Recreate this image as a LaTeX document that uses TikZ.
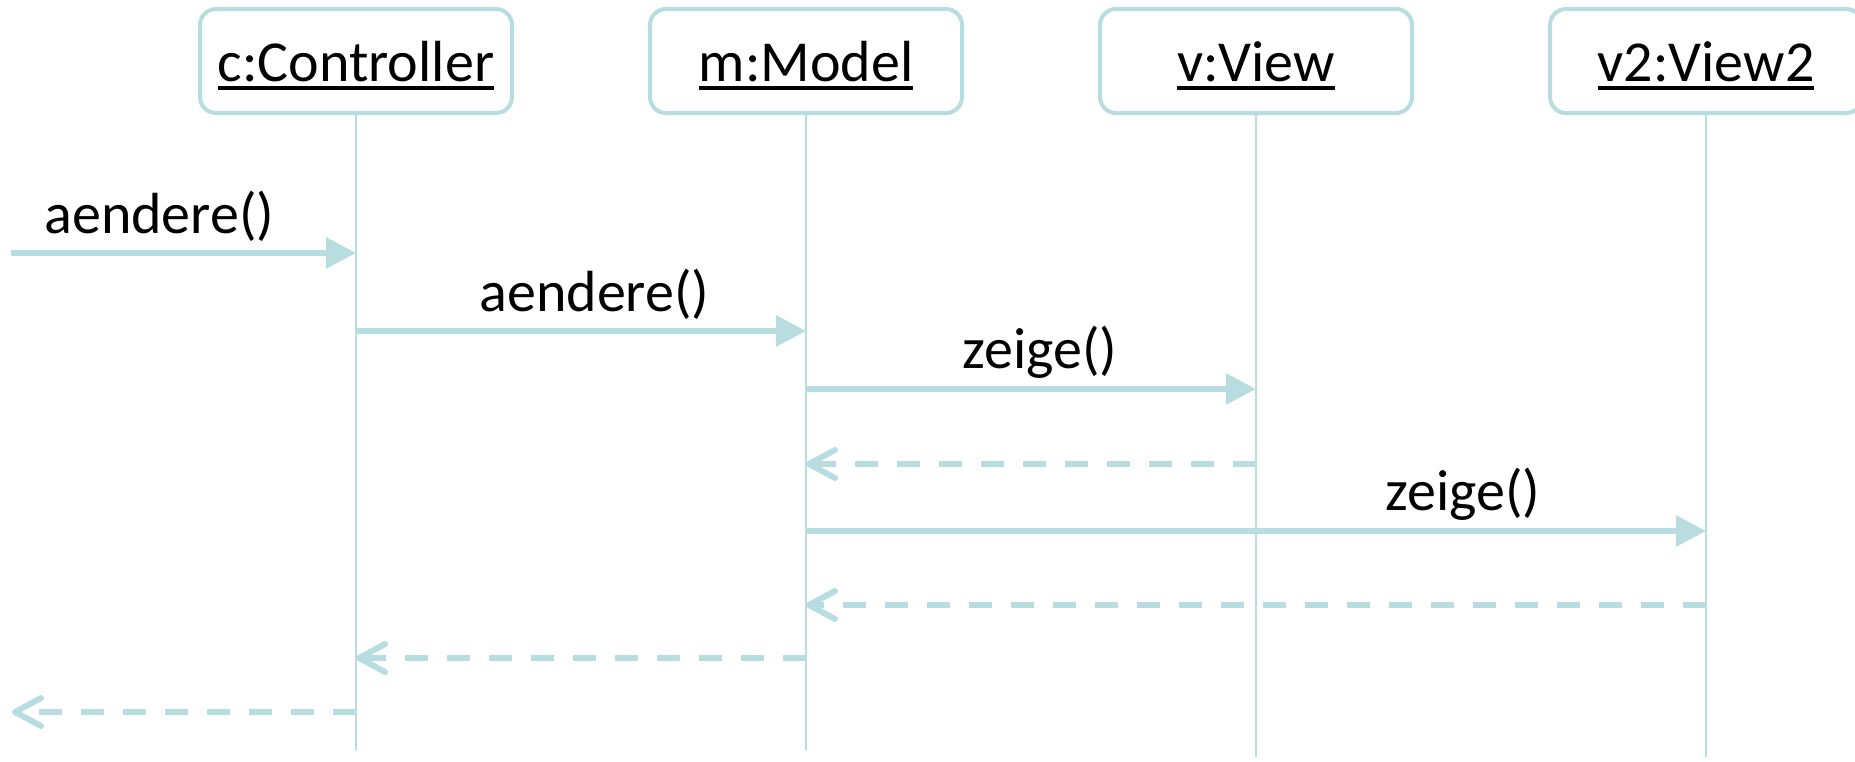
\documentclass[tikz,border=0pt]{standalone}
\usepackage{fontspec}
\setmainfont{Carlito}
\usepackage{tikz}
\usetikzlibrary{positioning, arrows.meta}
\definecolor{lifeblue}{RGB}{183,221,224}
\newcommand{\objname}[1]{\vtop{\hbox{#1}\kern5pt\hrule height 4pt}}

\begin{document}
\begin{tikzpicture}[
  x=1pt, y=-1pt,
  node distance=134pt,
  font=\fontsize{58}{64}\selectfont,
  objbox/.style={draw=lifeblue, line width=4pt, rounded corners=16pt, minimum width=312pt, minimum height=104pt, text height=50pt, text depth=10pt, inner sep=0pt},
  lifeline/.style={draw=lifeblue, line width=2pt},
  call/.style={draw=lifeblue, line width=6pt, -{Triangle[length=30pt, width=30pt]}},
  reply/.style={draw=lifeblue, line width=6pt, dash pattern=on 23pt off 19pt, -{Straight Barb[length=26pt, width=28pt, round]}},
  msglabel/.style={inner sep=0pt, above=8pt, text=black},
]
  \useasboundingbox (0,0) rectangle (1855,761);

  % Objects
  \node (ctrl) [objbox] at (356,61) {\objname{c:Controller}};
  \node (model) [objbox, right=of ctrl] {\objname{m:Model}};
  \node (view) [objbox, right=of model] {\objname{v:View}};
  \node (view2) [objbox, right=of view] {\objname{v2:View2}};

  % Lifelines
  \foreach \obj/\len in {ctrl/750, model/750, view/757, view2/757} {
    \draw [lifeline] (\obj.south) -- (\obj |- 0,\len);
  }

  % Outside caller
  \coordinate (caller) at (11,253);
  \coordinate (back) at (12,712);

  % Calls
  \draw [call] (caller) -- node (lbl1) [msglabel, pos=0.43] {aendere()} (ctrl |- caller);
  \draw [call] (ctrl |- 0,331) -- node (lbl2) [msglabel, pos=0.53] {aendere()} (model |- 0,331);
  \draw [call] (model |- 0,389) -- node (lbl3) [msglabel, pos=0.52] {zeige()} (view |- 0,389);
  \draw [call] (model |- 0,531) -- node (lbl4) [msglabel, pos=0.73] {zeige()} (view2 |- 0,531);

  % Replies
  \draw [reply] (view |- 0,464) -- (model |- 0,464);
  \draw [reply] (view2 |- 0,605) -- (model |- 0,605);
  \draw [reply] (model |- 0,658) -- (ctrl |- 0,658);
  \draw [reply] (ctrl |- back) -- (back);

\end{tikzpicture}
\end{document}
